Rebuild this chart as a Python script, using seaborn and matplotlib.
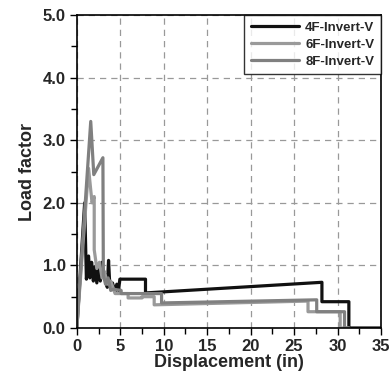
import numpy as np
import pandas as pd
import matplotlib
matplotlib.use("Agg")
import matplotlib.pyplot as plt
import seaborn as sns
from matplotlib.ticker import MultipleLocator

# Data
x_4f = [0, 0.9, 1.1, 1.35, 1.5, 1.7, 1.9, 2.1, 2.3, 2.5, 2.7, 2.9, 3.1, 3.3, 3.5, 3.65, 3.8, 4.1, 4.4, 4.6, 4.8, 4.95, 7.9, 7.9, 28.2, 28.2, 31.3, 31.3, 35]
y_4f = [0, 2.0, 0.78, 1.15, 0.8, 1.05, 0.75, 0.98, 0.72, 1.0, 0.75, 1.05, 0.8, 0.85, 0.65, 1.08, 0.66, 0.72, 0.58, 0.7, 0.6, 0.78, 0.78, 0.56, 0.73, 0.42, 0.42, 0, 0]

x_6f = [0, 1.35, 1.75, 2.0, 2.0, 2.3, 2.6, 2.9, 3.2, 3.5, 3.9, 4.4, 5.9, 5.9, 7.5, 7.5, 8.9, 8.9, 26.6, 26.6, 30.3, 30.3, 31.3]
y_6f = [0, 2.55, 2.0, 2.1, 1.25, 0.95, 1.05, 0.8, 0.9, 0.7, 0.75, 0.55, 0.55, 0.48, 0.48, 0.5, 0.5, 0.37, 0.43, 0.26, 0.26, 0, 0]

x_8f = [0, 1.6, 1.95, 3.0, 3.05, 3.3, 3.6, 3.9, 4.2, 5.1, 5.1, 9.75, 9.75, 27.6, 27.6, 30.8, 30.8, 31.3]
y_8f = [0, 3.3, 2.45, 2.72, 0.85, 0.7, 0.8, 0.6, 0.62, 0.6, 0.55, 0.55, 0.40, 0.45, 0.26, 0.26, 0, 0]

series = ["4F-Invert-V", "6F-Invert-V", "8F-Invert-V"]
colors = ["#111111", "#9a9a9a", "#808080"]

frames = []
for name, xs, ys in zip(series, [x_4f, x_6f, x_8f], [y_4f, y_6f, y_8f]):
    frames.append(pd.DataFrame({"x": xs, "y": ys, "s": name}))
df = pd.concat(frames, ignore_index=True)

sns.set_style("white")
plt.rcParams["font.family"] = ["Liberation Sans", "DejaVu Sans"]
plt.rcParams["font.weight"] = "bold"

fig = plt.figure(figsize=(3.92, 3.90), dpi=100)
ax = fig.add_axes([0.196, 0.159, 0.776, 0.8025])

sns.lineplot(data=df, x="x", y="y", hue="s", palette=dict(zip(series, colors)),
             sort=False, estimator=None, units="s", lw=2.3, ax=ax, legend=True)

ax.set_xlim(0, 35)
ax.set_ylim(0, 5)
ax.xaxis.set_major_locator(MultipleLocator(5))
ax.xaxis.set_minor_locator(MultipleLocator(2.5))
ax.yaxis.set_major_locator(MultipleLocator(1))
ax.yaxis.set_minor_locator(MultipleLocator(0.5))
ax.set_yticks([0, 1, 2, 3, 4, 5])
ax.set_yticklabels(["0.0", "1.0", "2.0", "3.0", "4.0", "5.0"])
ax.tick_params(which="both", direction="out", length=5, width=1, color="black",
               labelsize=12, bottom=True, left=True, pad=3)
ax.tick_params(which="minor", length=4)
for lab in ax.get_xticklabels() + ax.get_yticklabels():
    lab.set_fontweight("bold")
ax.grid(True, which="major", linestyle=(0, (5, 4)), color="#999999", lw=0.9)
for sp in ax.spines.values():
    sp.set_color("black")
    sp.set_linewidth(1.2)

ax.set_xlabel("Displacement (in)", fontsize=13, fontweight="bold", labelpad=0)
ax.set_ylabel("Load factor", fontsize=13, fontweight="bold", labelpad=5)

leg = ax.legend(loc="upper right", frameon=True, fancybox=False, edgecolor="black",
                handlelength=3.6, fontsize=9.5, borderaxespad=0.0, labelspacing=0.35,
                borderpad=0.5, handletextpad=0.5)
leg.get_frame().set_linewidth(1.0)
for t in leg.get_texts():
    t.set_fontweight("bold")
for l in leg.get_lines():
    l.set_linewidth(2.3)

fig.savefig("out.png", dpi=100, facecolor="white")
